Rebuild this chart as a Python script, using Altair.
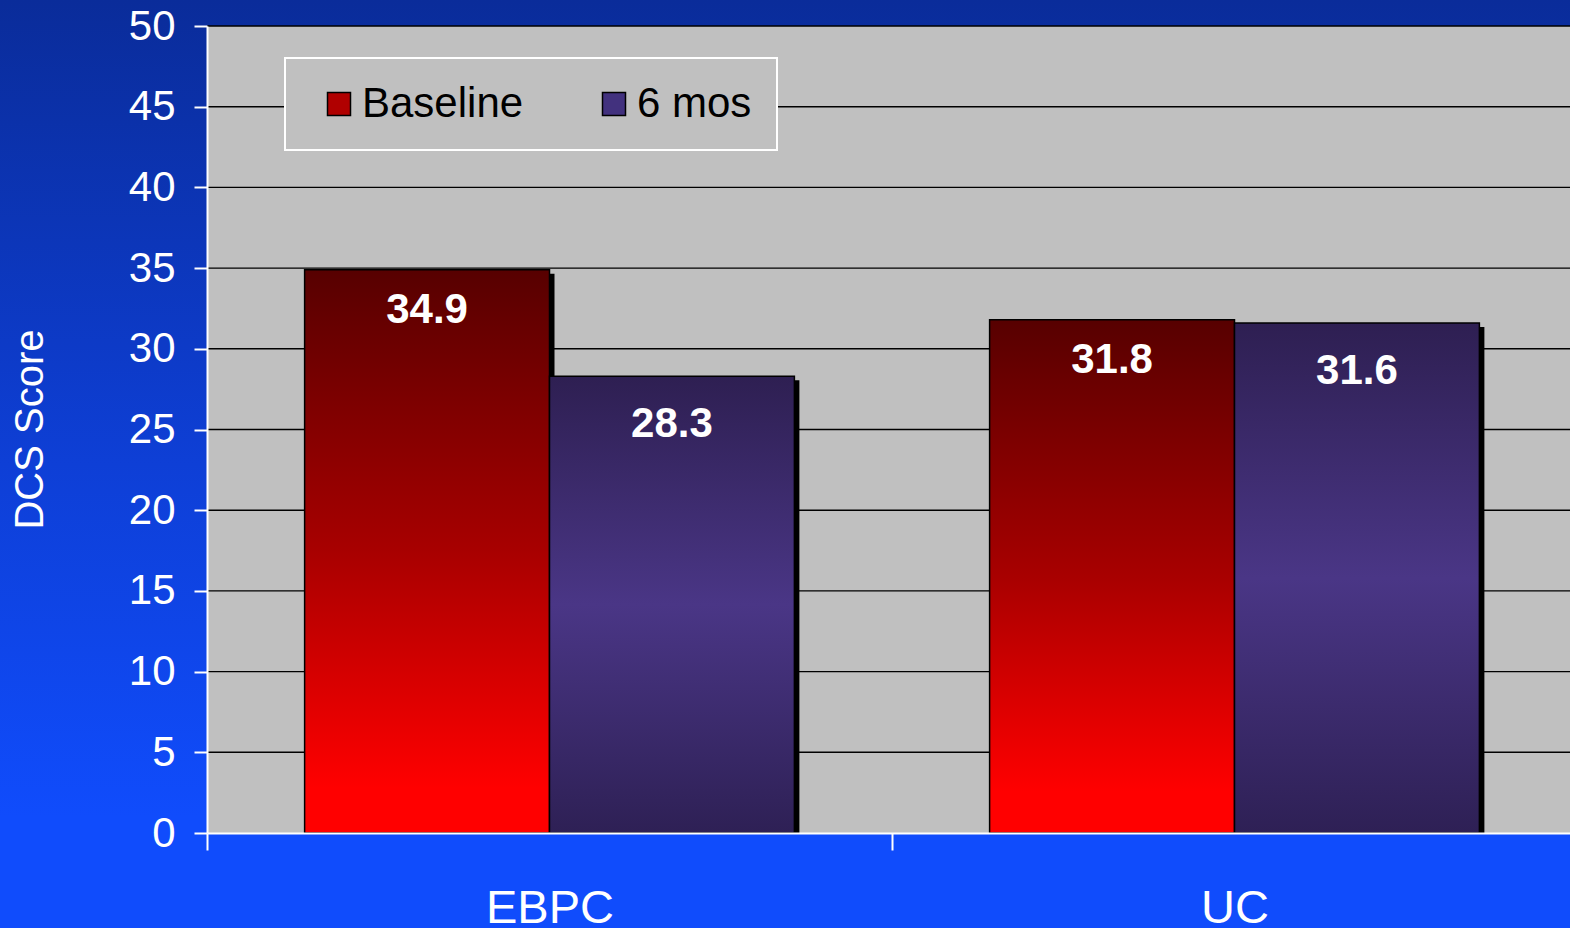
import altair as alt
import pandas as pd

# Mean DCS score per care group, at baseline and after 6 months
groups = ["EBPC", "UC"]
series = ["Baseline", "6 mos"]
baseline_scores = [34.9, 31.8]
six_month_scores = [28.3, 31.6]
y_ticks = [0, 5, 10, 15, 20, 25, 30, 35, 40, 45, 50]
grid_levels = [5, 10, 15, 20, 25, 30, 35, 40, 45, 50]

FONT = "Liberation Sans"
PLOT_W, PLOT_H = 1363, 807
PAD_L, PAD_T, PAD_B = 207, 26, 95
X_RANGE = 1370          # two category steps; the second runs just past the right edge
STEP = X_RANGE / 2
SHADOW_DX, SHADOW_DY = 5, 4

rows = []
for g, b, s in zip(groups, baseline_scores, six_month_scores):
    rows.append({"group": g, "series": "Baseline", "value": b})
    rows.append({"group": g, "series": "6 mos", "value": s})
bars = pd.DataFrame(rows)
grid = pd.DataFrame({"value": grid_levels})
one = pd.DataFrame({"k": [0]})


def x_scale(shift=0):
    return alt.Scale(domain=groups, range=[shift, X_RANGE + shift],
                     paddingInner=0.285, paddingOuter=0.1425)


xo_scale = alt.Scale(domain=series, paddingInner=0, paddingOuter=0)
y_scale = alt.Scale(domain=[0, 50], nice=False, zero=True)

# category ticks sit on the boundaries between groups, labels stay centred
x_axis = alt.Axis(
    title=None, labelAngle=0, grid=False, zindex=1,
    domainColor="white", domainWidth=2,
    tickColor="white", tickWidth=2, tickSize=17,
    tickOffset=-STEP / 2, labelOffset=STEP / 2,
    labelColor="white", labelFont=FONT, labelFontSize=47, labelPadding=35,
)
y_axis = alt.Axis(
    title="DCS Score", values=y_ticks, grid=False, zindex=1,
    domainColor="white", domainWidth=2,
    tickColor="white", tickWidth=2, tickSize=13,
    labelColor="white", labelFont=FONT, labelFontSize=42, labelPadding=19,
    titleColor="white", titleFont=FONT, titleFontSize=40, titleFontWeight="normal",
    titleAngle=-90, titleAlign="center", titleBaseline="middle",
    titleX=-177, titleY=403,
)

XO = alt.XOffset("series:N", scale=xo_scale, sort=series)
Y = alt.Y("value:Q", scale=y_scale, axis=y_axis)

bg_grad = alt.Gradient(
    gradient="linear", x1=0, x2=0, y1=0, y2=1,
    stops=[alt.GradientStop(color="#0A2C9A", offset=0),
           alt.GradientStop(color="#0E3FD6", offset=0.5),
           alt.GradientStop(color="#104CFC", offset=0.88),
           alt.GradientStop(color="#104CFC", offset=1)],
)
red_grad = alt.Gradient(
    gradient="linear", x1=0, x2=0, y1=0, y2=1,
    stops=[alt.GradientStop(color="#570000", offset=0),
           alt.GradientStop(color="#A80000", offset=0.5),
           alt.GradientStop(color="#FF0000", offset=0.92),
           alt.GradientStop(color="#FF0000", offset=1)],
)
purple_grad = alt.Gradient(
    gradient="linear", x1=0, x2=0, y1=0, y2=1,
    stops=[alt.GradientStop(color="#2E1F52", offset=0),
           alt.GradientStop(color="#4A3686", offset=0.5),
           alt.GradientStop(color="#2E2055", offset=1)],
)

# page background and grey plotting area
backdrop = alt.Chart(one).mark_rect(fill=bg_grad).encode(
    x=alt.value(-PAD_L), x2=alt.value(PLOT_W),
    y=alt.value(-PAD_T), y2=alt.value(PLOT_H + PAD_B),
)
plot_bg = alt.Chart(one).mark_rect(fill="#C0C0C0").encode(
    x=alt.value(0), x2=alt.value("width"), y=alt.value(0), y2=alt.value("height"),
)
gridlines = alt.Chart(grid).mark_rule(color="black", strokeWidth=1.4).encode(
    y=Y, x=alt.value(0), x2=alt.value("width"),
)

# drop shadow: same bars on a copy of the category scale shifted right,
# top moved down a little, bottom pinned to the baseline
shadow = alt.Chart(bars).mark_bar(color="black", yOffset=SHADOW_DY).encode(
    x=alt.X("group:N", scale=x_scale(SHADOW_DX), axis=None, sort=groups),
    xOffset=XO, y=Y, y2=alt.value("height"),
)

X_axis = alt.X("group:N", scale=x_scale(), axis=x_axis, sort=groups)
X_plain = alt.X("group:N", scale=x_scale(), axis=None, sort=groups)

bar_base = alt.Chart(bars).transform_filter(alt.datum.series == "Baseline").mark_bar(
    fill=red_grad, stroke="black", strokeWidth=1.5
).encode(x=X_axis, xOffset=XO, y=Y)
bar_six = alt.Chart(bars).transform_filter(alt.datum.series == "6 mos").mark_bar(
    fill=purple_grad, stroke="black", strokeWidth=1.5
).encode(x=X_plain, xOffset=XO, y=Y)

text_style = dict(color="white", font=FONT, fontWeight="bold", fontSize=42,
                  baseline="middle", align="center")
lab_base = alt.Chart(bars).transform_filter(alt.datum.series == "Baseline").mark_text(
    dy=40, **text_style
).encode(x=X_plain, xOffset=XO, y=Y, text=alt.Text("value:Q", format=".1f"))
lab_six = alt.Chart(bars).transform_filter(alt.datum.series == "6 mos").mark_text(
    dy=48, **text_style
).encode(x=X_plain, xOffset=XO, y=Y, text=alt.Text("value:Q", format=".1f"))

legend_layer = alt.Chart(bars).mark_square(opacity=0).encode(
    x=X_plain, xOffset=XO, y=Y,
    color=alt.Color(
        "series:N",
        scale=alt.Scale(domain=series, range=["#B00000", "#42317E"]),
        legend=alt.Legend(
            title=None, orient="none", legendX=78, legendY=32,
            direction="horizontal", fillColor="#C0C0C0", strokeColor="white",
            padding=25, symbolType="square", symbolSize=529,
            symbolStrokeColor="black", symbolStrokeWidth=1.5, symbolOpacity=1,
            symbolOffset=8, labelOffset=2, columnPadding=61,
            labelFont=FONT, labelFontSize=42, labelColor="black", labelLimit=400,
        ),
    ),
)

chart = alt.layer(
    backdrop, plot_bg, gridlines, shadow, bar_base, bar_six, lab_base, lab_six, legend_layer
).resolve_scale(
    x="independent"
).properties(
    width=PLOT_W, height=PLOT_H,
    autosize=alt.AutoSizeParams(type="none"),
    padding={"left": PAD_L, "top": PAD_T, "right": 0, "bottom": PAD_B},
).configure_view(stroke=None).configure_legend(strokeWidth=2)

chart.save("out.html", embed_options={"renderer": "svg", "actions": False})
